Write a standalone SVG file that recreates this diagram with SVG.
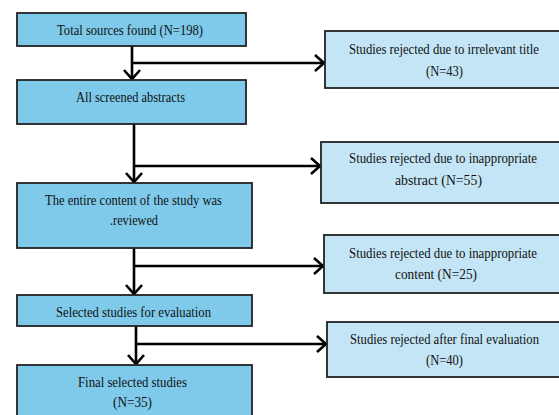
<svg xmlns="http://www.w3.org/2000/svg" width="559" height="415" viewBox="0 0 559 415">
<style>
.main{fill:#7fcaea;stroke:#222;stroke-width:1.8}
.side{fill:#c4e5f5;stroke:#222;stroke-width:1.8}
.t{font-family:"Liberation Serif","Times New Roman",serif;font-size:14px;fill:#111;text-anchor:middle}
.c{fill:none;stroke:#000;stroke-width:2.6}
</style>
<defs>
<marker id="ah" markerUnits="userSpaceOnUse" markerWidth="14" markerHeight="20" refX="10" refY="9" orient="auto" viewBox="0 0 14 20">
<path d="M1,1 L10,9 L1,17" fill="none" stroke="#000" stroke-width="2.6"/>
</marker>
</defs>
<rect width="559" height="415" fill="#fff"/>
<g id="connectors">
<path class="c" d="M132,46 V79" marker-end="url(#ah)"/>
<path class="c" d="M132,63 H324" marker-end="url(#ah)"/>
<path class="c" d="M134,124 V182" marker-end="url(#ah)"/>
<path class="c" d="M134,166 H320" marker-end="url(#ah)"/>
<path class="c" d="M134,248 V294" marker-end="url(#ah)"/>
<path class="c" d="M134,266 H323" marker-end="url(#ah)"/>
<path class="c" d="M136,326 V364" marker-end="url(#ah)"/>
<path class="c" d="M136,344 H326" marker-end="url(#ah)"/>
</g>
<g id="n1">
<rect class="main" x="17" y="13" width="229" height="33"/>
<text class="t" x="130" y="35" textLength="146" lengthAdjust="spacingAndGlyphs">Total sources found (N=198)</text>
</g>
<g id="n2">
<rect class="main" x="17" y="80" width="229" height="44"/>
<text class="t" x="130.5" y="102" textLength="109" lengthAdjust="spacingAndGlyphs">All screened abstracts</text>
</g>
<g id="n3">
<rect class="main" x="17" y="183" width="235" height="65"/>
<text class="t" x="133.5" y="205" textLength="177" lengthAdjust="spacingAndGlyphs">The entire content of the study was</text>
<text class="t" x="134" y="225" textLength="48" lengthAdjust="spacingAndGlyphs">.reviewed</text>
</g>
<g id="n4">
<rect class="main" x="17" y="295" width="235" height="31"/>
<text class="t" x="133.5" y="317" textLength="155" lengthAdjust="spacingAndGlyphs">Selected studies for evaluation</text>
</g>
<g id="n5">
<rect class="main" x="17" y="365" width="235" height="60"/>
<text class="t" x="132.5" y="387" textLength="109" lengthAdjust="spacingAndGlyphs">Final selected studies</text>
<text class="t" x="132.5" y="407" textLength="39" lengthAdjust="spacingAndGlyphs">(N=35)</text>
</g>
<g id="r1">
<rect class="side" x="325" y="31" width="240" height="57"/>
<text class="t" x="444" y="54" textLength="190" lengthAdjust="spacingAndGlyphs">Studies rejected due to irrelevant title</text>
<text class="t" x="444.5" y="76" textLength="37" lengthAdjust="spacingAndGlyphs">(N=43)</text>
</g>
<g id="r2">
<rect class="side" x="321" y="142" width="244" height="61"/>
<text class="t" x="443" y="163" textLength="188" lengthAdjust="spacingAndGlyphs">Studies rejected due to inappropriate</text>
<text class="t" x="438.5" y="185" textLength="87" lengthAdjust="spacingAndGlyphs">abstract (N=55)</text>
</g>
<g id="r3">
<rect class="side" x="324" y="235" width="241" height="58"/>
<text class="t" x="443" y="258" textLength="188" lengthAdjust="spacingAndGlyphs">Studies rejected due to inappropriate</text>
<text class="t" x="436" y="279" textLength="82" lengthAdjust="spacingAndGlyphs">content (N=25)</text>
</g>
<g id="r4">
<rect class="side" x="327" y="322" width="238" height="55"/>
<text class="t" x="444.5" y="344" textLength="189" lengthAdjust="spacingAndGlyphs">Studies rejected after final evaluation</text>
<text class="t" x="444.5" y="365" textLength="37" lengthAdjust="spacingAndGlyphs">(N=40)</text>
</g>
</svg>
